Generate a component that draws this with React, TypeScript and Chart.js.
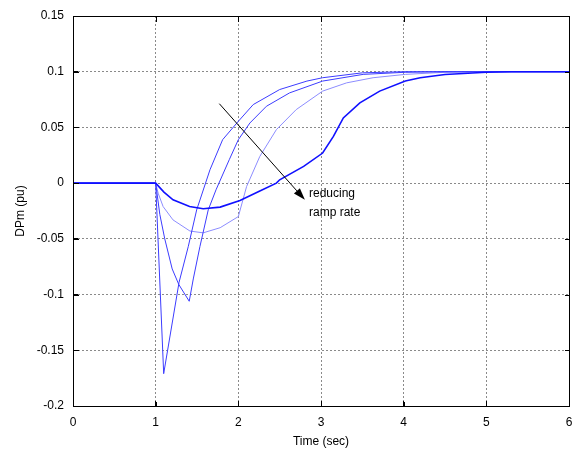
import React, { useEffect, useRef, useState } from "react";
import { Chart, registerables } from "chart.js";

Chart.register(...registerables);

// ---- data ----
const curveDarkT = [0, 1, 1.1, 1.21, 1.41, 1.575, 1.78, 2.02, 2.26, 2.46, 2.5, 2.79, 3.02, 3.15, 3.27, 3.47, 3.71, 4.02, 4.2, 4.5, 5.0, 5.3, 6];
const curveDarkY = [0, 0, -0.008, -0.015, -0.021, -0.023, -0.0215, -0.0155, -0.007, 0, 0.003, 0.015, 0.027, 0.042, 0.0585, 0.072, 0.0826, 0.0916, 0.0946, 0.0975, 0.0995, 0.1, 0.1];

const curveFastT = [0, 1, 1.097, 1.19, 1.283, 1.394, 1.496, 1.657, 1.81, 2.0, 2.18, 2.5, 2.83, 3.02, 3.5, 4.0, 6];
const curveFastY = [0, 0, -0.171, -0.13, -0.089, -0.057, -0.024, 0.012, 0.039, 0.0555, 0.0705, 0.084, 0.0916, 0.0946, 0.099, 0.1, 0.1];

const curveMidT = [0, 1, 1.05, 1.11, 1.2, 1.28, 1.406, 1.455, 1.535, 1.636, 1.73, 1.89, 2.0, 2.14, 2.34, 2.62, 3.02, 3.51, 4.02, 4.5, 6];
const curveMidY = [0, 0, -0.028, -0.05, -0.077, -0.091, -0.106, -0.086, -0.057, -0.024, -0.006, 0.021, 0.039, 0.054, 0.069, 0.081, 0.0916, 0.0976, 0.0995, 0.1, 0.1];

const curveLightT = [0, 1, 1.03, 1.09, 1.21, 1.415, 1.575, 1.78, 2.0, 2.1, 2.26, 2.46, 2.7, 3.02, 3.31, 3.63, 4.02, 4.5, 5.0, 6];
const curveLightY = [0, 0, -0.009, -0.021, -0.033, -0.043, -0.0446, -0.04, -0.03, -0.003, 0.024, 0.048, 0.066, 0.0826, 0.09, 0.0946, 0.0976, 0.0995, 0.1, 0.1];

const xTicks = [0, 1, 2, 3, 4, 5, 6];
const yTicks = [-0.2, -0.15, -0.1, -0.05, 0, 0.05, 0.1, 0.15];

const arrowFrom = [1.77, 0.0713];
const arrowTo = [2.805, -0.015];
const noteLines = ["reducing", "ramp rate"];
const notePos = [2.855, -0.0096];
const noteLineStep = -0.0168;

const FONT = '"Liberation Sans", Arial, Helvetica, sans-serif';

function pts(t: number[], y: number[]) {
  return t.map((v, i) => ({ x: v, y: y[i] }));
}

const notePlugin = {
  id: "arrowNote",
  afterDraw(chart: any) {
    const { ctx, scales } = chart;
    const xs = scales.x, ys = scales.y;
    ctx.save();
    ctx.setLineDash([]);
    const x0 = xs.getPixelForValue(arrowFrom[0]);
    const y0 = ys.getPixelForValue(arrowFrom[1]);
    const x1 = xs.getPixelForValue(arrowTo[0]);
    const y1 = ys.getPixelForValue(arrowTo[1]);
    const ang = Math.atan2(y1 - y0, x1 - x0);
    const hl = 12, hw = 4;
    const bx = x1 - hl * Math.cos(ang), by = y1 - hl * Math.sin(ang);
    ctx.strokeStyle = "#000";
    ctx.fillStyle = "#000";
    ctx.lineWidth = 1;
    ctx.beginPath();
    ctx.moveTo(x0, y0);
    ctx.lineTo(bx, by);
    ctx.stroke();
    ctx.beginPath();
    ctx.moveTo(x1, y1);
    ctx.lineTo(bx + hw * Math.sin(ang), by - hw * Math.cos(ang));
    ctx.lineTo(bx - hw * Math.sin(ang), by + hw * Math.cos(ang));
    ctx.closePath();
    ctx.fill();
    ctx.font = "12px " + FONT;
    ctx.textAlign = "left";
    ctx.textBaseline = "middle";
    noteLines.forEach((s, i) => {
      ctx.fillText(s, xs.getPixelForValue(notePos[0]), ys.getPixelForValue(notePos[1] + i * noteLineStep));
    });
    ctx.restore();
  },
};

const setX = (s: any) => { s.ticks = xTicks.map((v) => ({ value: v })); };
const setY = (s: any) => { s.ticks = yTicks.map((v) => ({ value: v })); };
const noPad = (s: any) => { s.paddingLeft = 0; s.paddingRight = 0; s.paddingTop = 0; s.paddingBottom = 0; };

type Frame = { L: number; R: number; T: number; B: number; xp: number[]; yp: number[] };

export default function App() {
  const ref = useRef<HTMLCanvasElement>(null);
  const [frame, setFrame] = useState<Frame | null>(null);
  useEffect(() => {
    if (!ref.current) return;
    const mkGrid = () => ({
      color: "#8a8a8a",
      lineWidth: 1,
      drawTicks: true,
      tickLength: -5,
      tickColor: "#000",
      tickWidth: 1,
      tickBorderDash: [],
    });
    const chart = new Chart(ref.current, {
      type: "line",
      data: {
        datasets: [
          { data: pts(curveDarkT, curveDarkY), borderColor: "#1010ff", borderWidth: 1.6 },
          { data: pts(curveFastT, curveFastY), borderColor: "#3c3cff", borderWidth: 1 },
          { data: pts(curveMidT, curveMidY), borderColor: "#3c3cff", borderWidth: 1 },
          { data: pts(curveLightT, curveLightY), borderColor: "#8c8cff", borderWidth: 1 },
        ],
      },
      options: {
        animation: false,
        responsive: false,
        events: [],
        elements: { point: { radius: 0, hoverRadius: 0 }, line: { tension: 0 } },
        layout: { autoPadding: false, padding: { top: 16, right: 7, left: 0, bottom: 0 } },
        plugins: { legend: { display: false }, tooltip: { enabled: false } },
        scales: {
          x: {
            type: "linear",
            position: "bottom",
            min: 0,
            max: 6,
            afterBuildTicks: setX,
            afterFit: (s: any) => { s.height = 44; noPad(s); },
            grid: mkGrid() as any,
            border: { display: true, color: "#000", width: 1, dash: [2, 2] } as any,
            ticks: { color: "#000", padding: 14, font: { size: 12, family: FONT }, callback: (v: any) => String(v) },
            title: { display: true, text: "Time (sec)", color: "#000", font: { size: 12, family: FONT }, padding: { top: 0, bottom: 1 } },
          },
          y: {
            type: "linear",
            position: "left",
            min: -0.2,
            max: 0.15,
            afterBuildTicks: setY,
            afterFit: (s: any) => { s.width = 73; noPad(s); },
            grid: mkGrid() as any,
            border: { display: true, color: "#000", width: 1, dash: [2, 2] } as any,
            ticks: { color: "#000", padding: 14, font: { size: 12, family: FONT }, callback: (v: any) => String(Number(Number(v).toFixed(2))) },
            title: { display: true, text: "DPm (pu)", color: "#000", font: { size: 12, family: FONT }, padding: { top: 13, bottom: 0 } },
          },
        },
      },
      plugins: [notePlugin],
    } as any);
    const a = chart.chartArea;
    const xs: any = chart.scales.x, ys: any = chart.scales.y;
    setFrame({
      L: Math.round(a.left) + 0.5,
      R: Math.round(a.right) + 0.5,
      T: Math.round(a.top) + 0.5,
      B: Math.round(a.bottom) + 0.5,
      xp: xTicks.map((v) => Math.round(xs.getPixelForValue(v)) + 0.5),
      yp: yTicks.map((v) => Math.round(ys.getPixelForValue(v)) + 0.5),
    });
    return () => chart.destroy();
  }, []);
  const tl = 5;
  return (
    <>
      <canvas
        ref={ref}
        width={576}
        height={450}
        style={{ position: "fixed", left: 0, top: 0, width: 576, height: 450 }}
      />
      {frame && (
        <svg
          width={576}
          height={450}
          style={{ position: "fixed", left: 0, top: 0, pointerEvents: "none" }}
        >
          <g stroke="#000" strokeWidth={1} fill="none" shapeRendering="crispEdges">
            <rect x={frame.L} y={frame.T} width={frame.R - frame.L} height={frame.B - frame.T} />
            {frame.xp.map((px, i) => (
              <g key={"x" + i}>
                <line x1={px} y1={frame.B} x2={px} y2={frame.B - tl} />
                <line x1={px} y1={frame.T} x2={px} y2={frame.T + tl} />
              </g>
            ))}
            {frame.yp.map((py, i) => (
              <g key={"y" + i}>
                <line x1={frame.L} y1={py} x2={frame.L + tl} y2={py} />
                <line x1={frame.R} y1={py} x2={frame.R - tl} y2={py} />
              </g>
            ))}
          </g>
        </svg>
      )}
    </>
  );
}
